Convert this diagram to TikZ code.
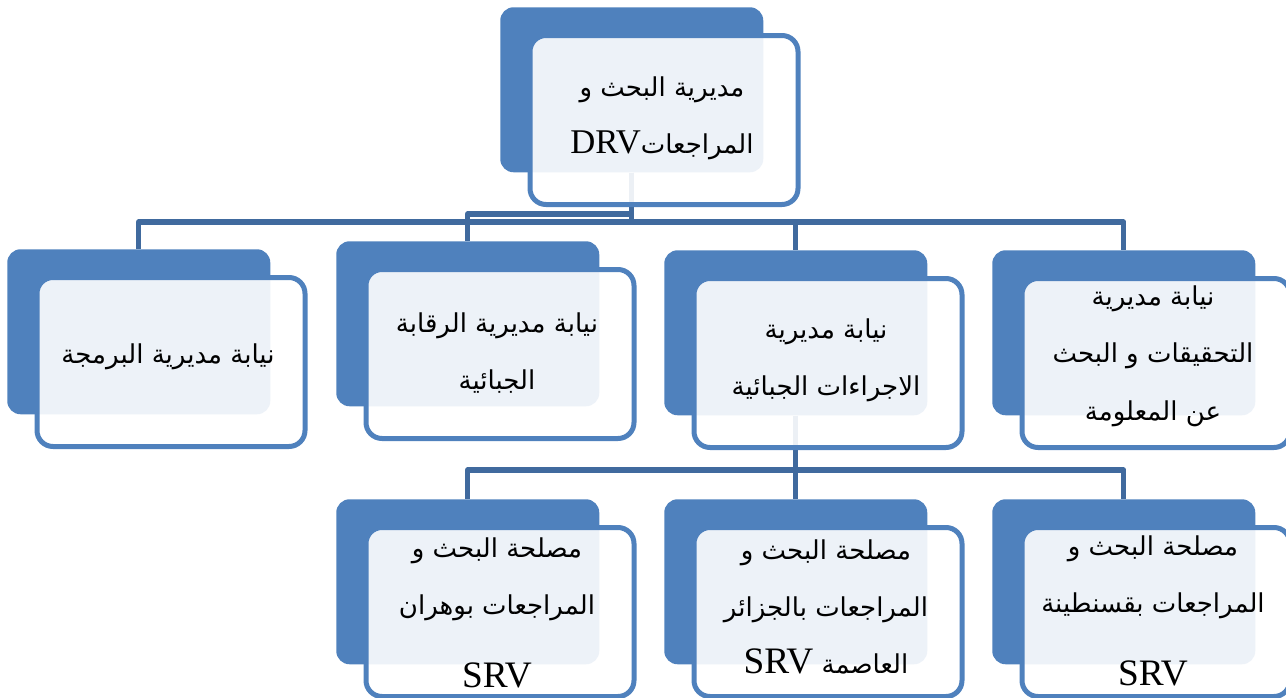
\documentclass[tikz,border=0pt]{standalone}
\usepackage{fontspec}
\usetikzlibrary{backgrounds}
\TeXXeTstate=1
\newfontfamily\arabicfont[Script=Arabic]{DejaVu Sans}
\newfontfamily\latinfont{Liberation Serif}
\definecolor{boxblue}{RGB}{79,129,189}
\definecolor{linkblue}{RGB}{64,106,158}
\newcommand{\srvfont}{\latinfont\fontsize{28}{30}\selectfont}
\newcommand{\drvfont}{\latinfont\fontsize{26}{30}\selectfont}
\begin{document}
\begin{tikzpicture}[x=0.75pt,y=-0.75pt,
  backbox/.style={rectangle, fill=boxblue, draw=none, rounded corners=10pt,
    minimum width=197.25pt, minimum height=123.75pt, inner sep=0pt, anchor=north west},
  frontbox/.style={rectangle, draw=boxblue, line width=3.75pt, fill=white, fill opacity=0.9,
    rounded corners=12pt, minimum width=201pt, minimum height=126.75pt, inner sep=0pt, anchor=north west},
  link/.style={draw=linkblue, line width=3.9pt, line join=round},
  boxtext/.style={align=center, text=black, inner sep=0pt,
    font=\arabicfont\fontsize{19.5}{43}\selectfont}
]
\useasboundingbox (0,0) rectangle (1286,697);
\clip (0,0) rectangle (1286,697);

\foreach \n/\x/\y in {T/500/7, A/7/249, B/336/241, C/664/250, D/992/250, E/336/499, F/664/499, G/992/499} {
  \node[backbox] (back\n) at (\x,\y) {};
  \node[frontbox] (front\n) at (\x+27.5,\y+26) {};
}

\coordinate (levA) at (0,222);
\coordinate (levB) at (0,214);
\coordinate (levL) at (0,470);

\begin{scope}[on background layer]
  \draw[link] (backT.south) -- (backT.south |- levA) -| (backA.north);
  \draw[link] (backT.south) -- (backT.south |- levB) -| (backB.north);
  \draw[link] (backT.south) -- (backT.south |- levA) -| (backC.north);
  \draw[link] (backT.south) -- (backT.south |- levA) -| (backD.north);
  \draw[link] (backC.south) -- (backC.south |- levL) -| (backE.north);
  \draw[link] (backC.south) -- (backC.south |- levL) -| (backF.north);
  \draw[link] (backC.south) -- (backC.south |- levL) -| (backG.north);
\end{scope}

\node[boxtext] (textT) at (662,118) {\beginR مديرية البحث و\endR\\\beginR المراجعات{\drvfont\beginL DRV\endL}\endR};
\node[boxtext] (textA) at (168,357) {\beginR نيابة مديرية البرمجة\endR};
\node[boxtext] (textB) at (497,353) {\beginR نيابة مديرية الرقابة\endR\\\beginR الجبائية\endR};
\node[boxtext] (textC) at (826,360) {\beginR نيابة مديرية\endR\\\beginR الاجراءات الجبائية\endR};
\node[boxtext] (textD) at (1153,356) {\beginR نيابة مديرية\endR\\\beginR التحقيقات و البحث\endR\\\beginR عن المعلومة\endR};
\node[boxtext] (textE) at (497,613) {\beginR مصلحة البحث و\endR\\\beginR المراجعات بوهران\endR\\[12pt]{\srvfont SRV}};
\node[boxtext] (textF) at (826,607) {\beginR مصلحة البحث و\endR\\\beginR المراجعات بالجزائر\endR\\\beginR العاصمة {\srvfont\beginL SRV\endL}\endR};
\node[boxtext] (textG) at (1153,611) {\beginR مصلحة البحث و\endR\\\beginR المراجعات بقسنطينة\endR\\[12pt]{\srvfont SRV}};
\end{tikzpicture}
\end{document}
